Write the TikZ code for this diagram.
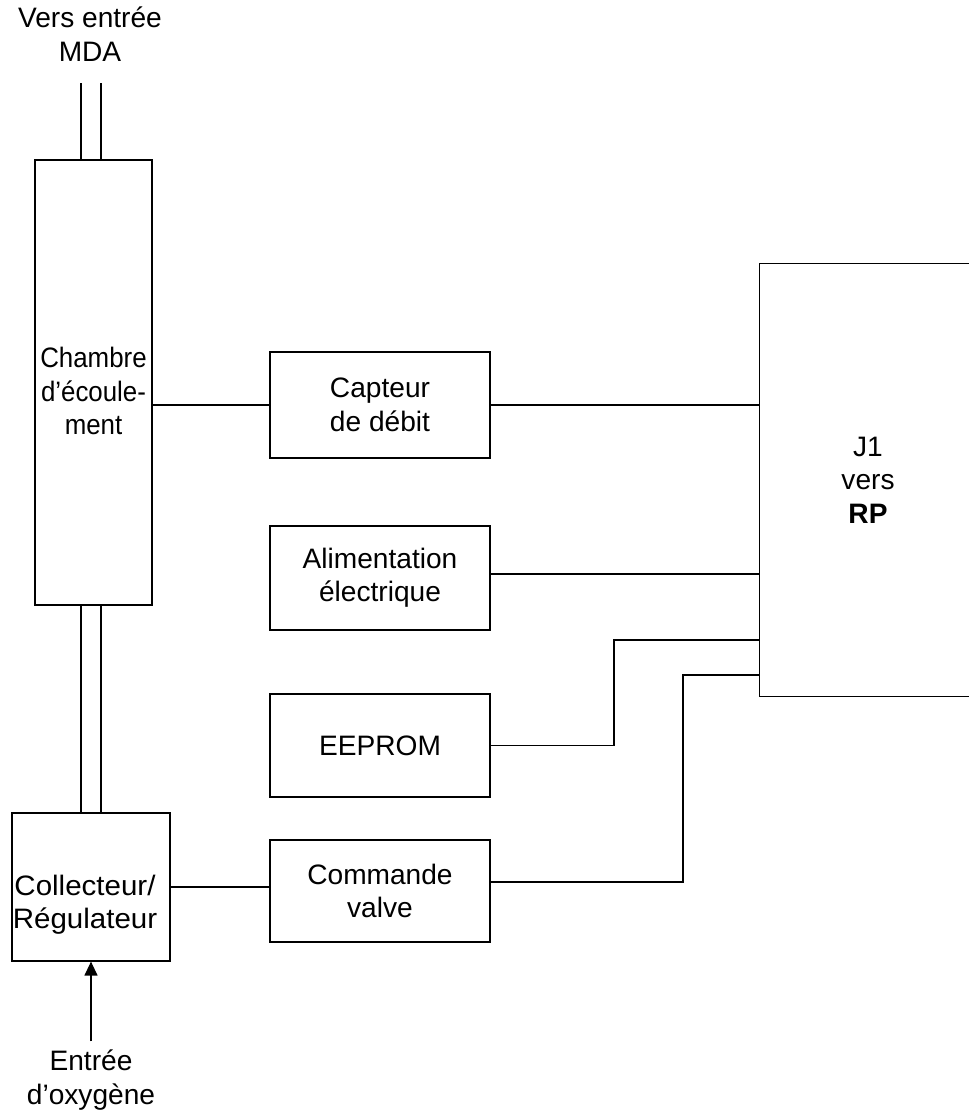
\documentclass[tikz,border=0pt]{standalone}
\usepackage{fontspec}
\setmainfont{Liberation Sans}
\newfontfamily\narrowsans[FakeStretch=0.92]{Liberation Sans}
\newfontfamily\widesans[FakeStretch=1.05]{Liberation Sans}
\usetikzlibrary{arrows.meta,positioning,calc}

\begin{document}
\begin{tikzpicture}[x=0.02cm,y=-0.02cm,line width=0.7pt,
  blk/.style={draw,align=center,inner sep=2pt,font=\fontsize{16}{19}\selectfont},
  lbl/.style={align=center,inner sep=0pt,font=\fontsize{16}{19}\selectfont},
  pipe/.style={draw},
  feed/.style={-{Triangle[length=0.28cm,width=0.26cm]}}
]
  \useasboundingbox (0,0) rectangle (969,1116);
  \node[blk,minimum width=2.34cm,minimum height=8.9cm] (chambre) at (93.5,382.5) {};
  \node[lbl,font=\narrowsans\fontsize{16}{19}\selectfont] (chambretxt) at (93.5,391) {Chambre\\d’écoule-\\ment};
  \node[blk,minimum width=3.16cm,minimum height=2.96cm] (collect) at (91,887) {};
  \node[lbl,font=\widesans\fontsize{16}{19}\selectfont] (collecttxt) at (85,905) {Collecteur/\\Régulateur};
  \node[blk,minimum width=4.4cm,minimum height=2.12cm] (capteur) at (380,405) {Capteur\\de débit};
  \node[blk,minimum width=4.4cm,minimum height=2.08cm] (alim) at (380,578) {Alimentation\\électrique};
  \node[blk,minimum width=4.4cm,minimum height=2.06cm] (eeprom) at (380,745.5) {EEPROM};
  \node[blk,minimum width=4.4cm,minimum height=2.04cm] (valve) at (380,891) {Commande\\valve};
  \node[lbl,minimum width=4.32cm,minimum height=8.64cm] (j1) at (868,480) {J1\\vers\\\textbf{RP}};
  \draw (j1.north east) -- (j1.north west) -- (j1.south west) -- (j1.south east);

  \node[lbl] (mdatxt) at (90,34) {Vers entrée\\MDA};
  \node[lbl] (oxy) at (91,1080) {Entrée\\d’oxygène};
  \coordinate (mda) at (91,83);
  \coordinate (bendA) at (614,640);
  \coordinate (bendB) at (683,675);

  \draw[pipe] ([xshift=-0.2cm]mda) -- ([xshift=-0.2cm]mda |- chambre.north);
  \draw[pipe] ([xshift=0.2cm]mda) -- ([xshift=0.2cm]mda |- chambre.north);
  \draw[pipe] ([xshift=-0.2cm]collect.north) -- ([xshift=-0.2cm]collect.north |- chambre.south);
  \draw[pipe] ([xshift=0.2cm]collect.north) -- ([xshift=0.2cm]collect.north |- chambre.south);
  \draw[feed] ([yshift=0.16cm]oxy.north) -- (collect.south);

  \draw (chambre.east |- capteur.west) -- (capteur.west);
  \draw (capteur.east) -- (capteur.east -| j1.west);
  \draw ([yshift=0.08cm]alim.east) -- ([yshift=0.08cm]alim.east -| j1.west);
  \draw (eeprom.east) -| (bendA) -- (bendA -| j1.west);
  \draw ([yshift=0.18cm]valve.east) -| (bendB) -- (bendB -| j1.west);
  \draw (collect.east) -- (collect.east -| valve.west);
\end{tikzpicture}
\end{document}
